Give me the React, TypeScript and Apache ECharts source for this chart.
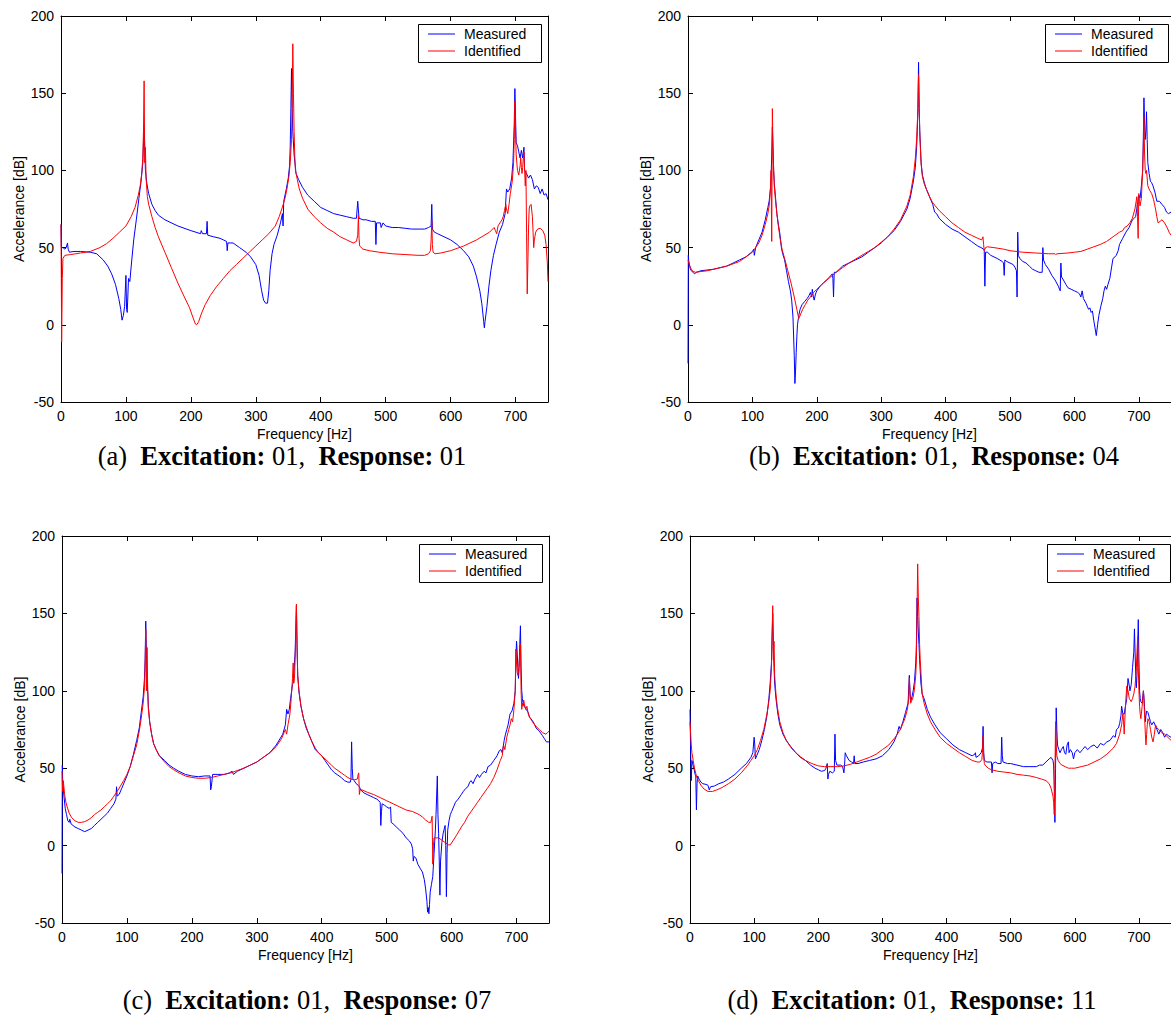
import React, { useEffect, useRef } from "react";
import * as echarts from "echarts";

// ---------- Data (frequency [Hz], accelerance [dB]) ----------
const aMeasured: number[][] = [[0,65],[0.5,50],[3,50],[6,49],[8,50],[10,53],[11,49],[13,47],[20,47.5],[30,47.5],[45,47],[55,46],[65,42],[72,38],[78,33],[84,26],[89,17],[92,10],[94,3],[96,6],[98,12],[100,32],[101,10],[102,8],[104,30],[106,28],[109,42],[112,55],[116,68],[120,82],[123,92],[125,100],[126,105],[127,118],[128,128],[129,115],[130,100],[132,92],[135,85],[140,78],[145,74],[150,71],[160,68],[180,64],[200,61],[215,59],[216,61],[218,59],[224,59],[225,67],[226,58],[235,57],[245,56],[250,55],[255,54],[256,48],[257,53],[265,53],[275,50],[285,47],[292,44],[300,39],[305,32],[309,22],[312,16],[315,14],[318,14],[320,22],[322,35],[325,46],[328,52],[333,58],[338,66],[341,72],[342,64],[343,80],[347,88],[350,95],[352,103],[353,115],[354,140],[355,166],[356,140],[357,125],[359,110],[362,98],[366,94],[372,89],[380,84],[390,80],[400,76],[410,74],[420,72],[430,71],[440,70],[450,69],[455,69],[457,80],[459,69],[465,68],[470,68],[478,67],[484,67],[485,52],[486,66],[492,66],[493,63],[496,66],[500,64],[510,63],[520,63],[530,62.5],[540,62],[550,62],[560,62],[566,63],[570,64],[571,78],[572,62],[575,60],[580,59],[590,57],[600,55],[610,52],[620,48],[628,44],[635,38],[640,31],[645,22],[648,14],[651,2],[652,-2],[653,2],[656,12],[659,25],[662,35],[666,45],[670,52],[675,60],[680,65],[684,72],[686,88],[688,86],[691,88],[694,95],[696,105],[698,130],[699,153],[700,135],[701,118],[703,116],[705,112],[707,108],[709,113],[711,108],[713,115],[714,100],[717,98],[720,95],[723,97],[726,94],[729,88],[732,90],[735,89],[738,85],[741,88],[744,84],[747,85],[750,81]];
const aIdentified: number[][] = [[0,65],[1,-11],[2,30],[3,43],[6,45],[15,45.5],[30,46.5],[45,47.5],[60,50],[70,52.5],[80,56],[90,60],[100,64],[108,70],[114,76],[119,84],[122,90],[124,97],[126,108],[127,125],[128,158],[129,105],[130,115],[131,95],[133,83],[135,78],[140,70],[145,63],[150,57],[160,47],[170,37],[180,27],[190,18],[198,11],[203,5],[207,0.5],[209,0],[212,2],[216,7],[222,13],[230,19],[240,25],[250,30],[260,35],[270,39],[280,43],[290,47],[300,51],[310,55],[320,59],[330,64],[336,70],[340,75],[343,79],[345,82],[348,88],[351,96],[353,105],[355,120],[356,140],[357,182],[358,150],[359,125],[360,110],[361,100],[362,98],[364,94],[367,88],[372,82],[380,75],[390,70],[400,66],[410,62.5],[420,60],[430,57],[440,55],[450,53],[455,54],[457,58],[458,71],[459,56],[460,51],[465,49],[475,48],[490,47],[510,46],[530,45.5],[550,45],[560,45],[566,46],[569,48],[570,55],[571,67],[572,52],[573,47],[576,46],[585,46.5],[600,48],[610,49.5],[620,51],[630,53],[640,55],[650,57.5],[660,60],[667,63],[669,61],[671,59],[673,64],[676,66],[679,68],[681,70],[683,74],[685,78],[686,75],[688,72],[690,78],[692,85],[695,93],[697,105],[698,120],[699,145],[700,125],[701,110],[703,100],[705,97],[707,103],[708,108],[709,102],[710,98],[711,102],[712,108],[713,112],[714,100],[715,90],[716,100],[717,60],[718,20],[719,40],[720,62],[721,75],[722,77],[724,78],[725,78],[726,70],[727,60],[728,50],[729,55],[731,60],[734,62],[738,62.5],[742,61],[745,58],[747,52],[749,40],[750,28]];

const bMeasured: number[][] = [[0,-25],[0.5,45],[1,42],[3,37],[5,35],[8,34],[10,33],[13,34],[20,35],[30,35.5],[40,36],[50,37],[60,38],[70,40],[80,42],[90,44],[100,47.5],[102,49],[103,45],[105,50],[110,55],[115,60],[120,68],[124,76],[126,80],[128,88],[129,95],[130,110],[131,128],[132,115],[133,100],[134,92],[136,82],[138,72],[140,66],[143,58],[145,50],[147,46],[150,42],[153,35],[156,28],[159,22],[161,16],[163,5],[165,-20],[166,-38],[167,-30],[168,-18],[169,-8],[170,0],[172,6],[174,10],[177,13],[181,15],[185,17],[188,19],[190,21],[192,18],[193,23],[195,17],[196,16],[198,20],[200,22],[205,25],[210,27],[215,29],[220,31],[224,33],[225,30],[226,18],[227,34],[230,34],[235,36],[240,38],[250,40],[260,42],[270,44],[280,47],[290,50],[300,53],[310,57],[320,61],[330,67],[340,75],[345,82],[350,93],[353,102],[355,115],[356,125],[357,140],[358,170],[359,140],[360,125],[362,105],[364,97],[367,92],[370,88],[375,83],[380,78],[383,73],[386,72],[390,69],[400,65],[410,62],[420,60],[430,57],[440,54],[450,51],[455,50],[459,49],[460,48],[461,25],[462,47],[465,47],[470,45],[480,43],[488,41],[490,40],[491,32],[492,42],[495,41],[500,40],[505,39],[508,37],[510,35],[511,18],[512,60],[513,45],[515,43],[520,41],[525,40],[530,38],[535,36],[540,35],[545,34],[550,34],[551,50],[552,42],[555,39],[560,36],[565,32],[570,29],[575,25],[578,22],[579,40],[580,31],[583,29],[587,26],[590,24],[595,23],[600,22],[605,21],[608,20],[610,18],[612,22],[614,17],[618,14],[620,12],[622,10],[624,11],[626,8],[628,9],[630,3],[632,-2],[634,-7],[636,0],[638,6],[641,12],[644,17],[646,22],[648,25],[650,23],[652,26],[655,30],[658,38],[660,43],[663,44],[665,45],[668,48],[670,52],[675,56],[680,60],[685,63],[688,66],[690,68],[693,69],[695,70],[698,78],[700,84],[702,82],[704,90],[706,100],[707,120],[708,147],[709,130],[710,120],[711,125],[712,138],[713,120],[714,105],[716,98],[718,93],[720,92],[722,90],[725,86],[728,80],[732,80],[736,78],[740,76],[743,73],[746,72],[750,73]];
const bIdentified: number[][] = [[0,42],[2,39],[5,36],[8,34.5],[12,34],[20,34.5],[30,35],[40,36],[50,37],[60,38],[70,39.5],[80,41],[90,44],[100,47],[105,50],[110,53],[115,58],[120,65],[124,72],[126,77],[128,88],[129,100],[130,54],[131,140],[132,112],[134,90],[136,80],[138,72],[140,65],[143,56],[146,49],[150,43],[155,35],[160,27],[165,18],[169,10],[172,4],[175,7],[178,10],[182,13],[186,16],[190,18],[195,21],[200,23],[210,27],[220,30.5],[230,34],[240,37],[250,40],[260,42.5],[270,45],[280,47.5],[290,50],[300,53.5],[310,57],[320,62],[330,68],[340,77],[345,84],[350,96],[353,108],[355,120],[357,140],[358,162],[359,138],[360,122],[362,104],[364,96],[367,91],[370,88],[375,83],[380,79],[390,74],[400,70],[410,66],[420,63],[430,60],[440,58],[450,56],[456,55],[458,57],[459,52],[460,48],[462,50],[465,50.5],[475,50],[490,49],[500,48],[520,47],[540,46.5],[560,46],[570,46],[571,45.5],[573,46],[590,46.5],[600,47],[610,47.5],[620,49],[630,50.5],[640,52],[650,54],[660,57],[670,60],[675,61],[678,63],[682,64],[686,66],[690,69],[694,75],[697,83],[698,70],[699,56],[700,85],[701,80],[702,77],[704,82],[706,100],[707,115],[708,135],[709,110],[710,100],[711,98],[712,100],[714,90],[717,87],[720,85],[723,81],[726,75],[728,70],[730,66],[733,67],[736,68],[740,66],[744,63],[747,60],[750,58]];

const cMeasured: number[][] = [[0,-18],[0.5,52],[1,42],[3,32],[5,24],[7,20],[9,16],[11,15],[12,17],[14,14],[17,13],[20,12],[25,11],[30,10],[35,9],[40,10],[45,11],[50,13],[55,15],[60,17],[65,19],[70,21],[75,24],[80,27],[83,30],[84,38],[85,32],[88,33],[92,37],[96,41],[100,45],[105,51],[110,59],[115,68],[119,76],[122,86],[125,96],[127,108],[128,120],[129,145],[130,125],[131,110],[133,90],[135,80],[138,72],[141,66],[145,62],[150,58],[158,55],[165,52],[172,50],[180,48],[190,46],[200,45],[210,44.5],[220,45],[228,45],[229,36],[230,38],[232,46],[240,46],[250,46],[258,47],[262,48],[264,46],[270,48],[280,50],[290,52],[300,54],[310,57],[320,60],[330,65],[340,72],[344,78],[346,88],[348,85],[350,88],[352,95],[355,104],[356,105],[358,118],[359,125],[360,140],[361,155],[362,130],[363,110],[365,99],[368,90],[372,82],[376,76],[380,72],[385,67],[390,62],[395,60],[400,58],[405,55],[410,52],[415,49],[420,47],[425,45.5],[430,44],[435,42],[440,41],[444,41],[445,43],[446,67],[447,50],[448,43],[450,42],[453,40],[456,39],[458,38],[460,36],[465,34],[470,33],[475,32],[480,31],[485,30],[490,28],[491,13],[492,22],[493,27],[497,26],[500,25],[504,24],[506,25],[507,15],[510,14],[515,12],[520,10],[525,8],[530,5],[535,3],[538,1],[540,-2],[541,-10],[542,-7],[545,-8],[548,-12],[552,-15],[555,-17],[558,-22],[560,-28],[562,-36],[563,-43],[564,-40],[565,-44],[566,-38],[567,-30],[569,-25],[571,-20],[573,-5],[575,10],[576,20],[578,45],[579,20],[580,8],[581,-10],[582,-32],[583,-10],[585,2],[587,8],[590,13],[591,0],[592,-33],[593,-5],[594,10],[596,16],[598,20],[600,22],[603,25],[606,28],[610,30],[615,33],[618,35],[622,37],[625,38],[628,41],[630,42],[633,40],[636,43],[640,46],[643,44],[646,46],[650,48],[653,47],[656,51],[660,52],[665,55],[670,58],[673,61],[676,62],[678,60],[681,68],[683,72],[685,75],[687,78],[690,85],[693,87],[696,92],[698,100],[699,120],[700,132],[701,125],[702,115],[703,108],[704,115],[705,130],[706,142],[707,115],[708,100],[709,95],[710,92],[712,90],[715,88],[718,86],[720,83],[724,81],[727,79],[730,76],[735,74],[740,71],[743,69],[746,67],[750,67]];
const cIdentified: number[][] = [[0,48],[1,35],[2,42],[4,33],[6,28],[8,25],[11,21],[15,18],[20,16],[25,15],[30,15],[35,15.5],[40,16.5],[45,18],[50,20],[55,21.5],[60,23],[65,25],[70,27],[75,29],[80,32],[85,35],[90,38.5],[95,42],[100,46],[105,51],[110,58],[115,65],[119,74],[122,82],[125,92],[127,102],[128,115],[129,140],[130,100],[131,128],[132,100],[133,88],[135,80],[138,72],[141,66],[145,62],[150,58],[158,54],[165,51],[172,49],[180,47],[190,45],[200,44],[210,43.5],[220,43.5],[230,44],[240,45],[250,46],[260,47],[270,48.5],[280,50],[290,52],[300,54],[310,57],[320,60],[330,64],[338,69],[342,73],[344,75],[346,72],[348,78],[351,85],[353,95],[355,108],[356,118],[357,105],[358,108],[359,120],[360,135],[361,156],[362,128],[363,110],[365,100],[368,90],[372,82],[376,77],[380,72],[385,67],[390,63],[395,60],[400,58],[405,56],[410,54],[415,52],[420,50],[425,48.5],[430,47],[435,45.5],[440,44],[445,43],[450,42.5],[455,43],[456,46],[457,47],[458,33],[459,36],[462,36],[470,34.5],[480,33],[490,31],[500,29],[510,27],[520,25],[530,23],[540,22],[550,20],[555,18.5],[560,16.5],[565,15],[568,15],[570,19],[571,-12],[572,0],[573,5],[576,5],[580,5],[585,3.5],[590,2],[595,0.5],[598,0.5],[602,3],[608,7],[615,12],[620,15],[625,19],[630,22],[635,25],[640,28],[645,31],[650,34],[655,37],[660,40],[665,44],[670,49],[675,55],[678,58],[680,65],[682,62],[685,70],[688,75],[690,78],[692,82],[694,80],[696,88],[698,100],[699,127],[700,118],[701,112],[702,110],[703,112],[704,118],[706,130],[707,100],[708,88],[709,92],[710,90],[711,94],[712,92],[714,88],[716,90],[718,85],[720,83],[723,81],[726,79],[730,77],[735,75],[740,73],[745,72],[748,73],[750,74]];

const dMeasured: number[][] = [[0,88],[1,60],[2,42],[3,55],[4,55],[6,50],[8,46],[9,45],[10,23],[11,40],[12,45],[14,43],[17,41],[20,40],[25,39.5],[28,39],[30,36],[32,38],[38,38.5],[45,40],[52,41],[60,43],[70,46],[80,50],[88,53],[95,57],[98,60],[100,70],[101,65],[102,56],[104,58],[108,62],[112,68],[116,75],[120,84],[123,95],[125,105],[127,118],[128,135],[129,150],[130,130],[131,115],[132,105],[134,95],[137,85],[140,78],[145,72],[150,68],[157,64],[165,60],[172,57],[180,55],[188,52],[195,50],[200,49],[205,48],[210,48.5],[212,50],[214,53],[215,43],[216,46],[218,48],[222,47],[225,48],[226,72],[227,55],[229,52],[235,52],[238,51],[240,47],[241,52],[242,60],[244,58],[248,55],[252,54],[255,53],[256,58],[257,53],[262,53],[270,54],[280,55],[290,56],[300,58],[310,62],[318,67],[323,72],[326,77],[328,75],[332,80],[336,86],[340,92],[342,110],[343,100],[344,93],[346,96],[348,100],[350,106],[352,118],[353,130],[354,160],[355,148],[356,138],[357,130],[358,120],[360,105],[362,98],[365,95],[370,88],[375,83],[382,78],[390,73],[400,69],[410,65],[420,62],[430,60],[440,58],[444,59],[445,60],[446,57],[450,58],[454,60],[456,63],[457,77],[458,60],[459,55],[463,54],[468,54],[470,54],[471,47],[472,53],[476,54],[480,53],[485,53],[486,70],[487,58],[488,54],[495,53],[500,53],[510,52],[520,51],[530,51],[540,51],[545,52],[550,52],[555,54],[560,56],[563,57],[566,55],[567,52],[568,35],[569,15],[570,50],[571,89],[572,75],[573,65],[575,62],[577,60],[579,62],[582,64],[584,60],[586,59],[588,65],[590,67],[591,60],[593,62],[596,60],[598,56],[600,60],[604,62],[608,60],[612,62],[616,64],[620,62],[625,64],[630,65],[635,63],[640,66],[645,65],[650,67],[655,68],[660,71],[663,70],[665,75],[668,76],[670,79],[672,84],[673,90],[675,85],[677,85],[679,90],[681,95],[683,108],[685,103],[686,100],[688,104],[690,115],[692,125],[693,140],[694,125],[695,110],[696,102],[697,110],[699,146],[700,120],[701,100],[702,95],[703,93],[705,92],[707,100],[708,95],[710,80],[711,84],[712,87],[714,86],[716,83],[718,80],[720,78],[723,80],[725,78],[728,75],[731,72],[734,75],[737,73],[740,70],[743,72],[746,71],[750,70]];
const dIdentified: number[][] = [[0,80],[1,72],[2,65],[3,60],[5,55],[7,50],[10,45],[13,42],[17,39],[22,36.5],[28,35],[35,35],[42,36],[50,37.5],[60,40],[70,43],[80,47],[90,52],[95,55],[100,58],[105,62],[110,68],[115,75],[119,83],[122,90],[125,100],[127,115],[128,135],[129,155],[130,120],[131,132],[132,110],[134,98],[136,90],[140,80],[145,73],[150,68],[158,63],[165,60],[172,57.5],[180,55],[190,53],[200,51.5],[210,51],[220,51],[230,51],[240,51.5],[250,52.5],[260,54],[270,55.5],[280,57],[290,59],[300,62],[310,65],[320,70],[328,75],[335,82],[339,88],[341,95],[342,108],[343,98],[344,92],[346,94],[348,96],[350,101],[352,110],[353,120],[354,150],[355,182],[356,160],[357,148],[358,130],[359,120],[361,105],[362,98],[365,92],[370,85],[375,80],[382,75],[390,70],[400,66],[410,63],[420,60],[430,57.5],[440,55],[448,54],[452,54],[455,55.5],[456,60],[457,71],[458,57],[459,53],[460,52],[465,50],[470,49],[480,48],[490,47.5],[500,47],[510,46],[520,45.5],[530,45],[540,44],[548,43],[555,42],[560,40],[563,37],[566,32],[567,28],[568,20],[569,45],[570,80],[571,65],[572,58],[574,55],[577,53],[580,52],[585,51],[590,50],[595,50],[600,50],[610,51],[620,52],[630,54],[640,56],[650,59],[660,63],[665,66],[670,72],[673,78],[675,85],[676,80],[677,72],[679,90],[681,103],[683,100],[685,95],[688,93],[690,95],[692,98],[694,103],[696,115],[697,125],[698,135],[699,115],[700,100],[701,90],[702,85],[703,82],[705,90],[706,95],[707,100],[708,92],[709,82],[710,72],[711,65],[712,72],[713,78],[714,82],[716,80],[718,75],[720,70],[722,67],[724,72],[726,78],[728,76],[731,75],[735,73],[740,72],[745,70],[750,68]];

const seriesNames = ["Measured", "Identified"];
const seriesColors = ["#0000ff", "#ff0000"];
const panelLetters = ["(a)", "(b)", "(c)", "(d)"];
const excitations = ["01", "01", "01", "01"];
const responses = ["01", "04", "07", "11"];
const xAxisTitle = "Frequency [Hz]";
const yAxisTitle = "Accelerance [dB]";

// layout (pixels)
const grids = [
  { left: 61, top: 16, width: 487, height: 386 },
  { left: 688, top: 16, width: 487, height: 386 },
  { left: 62, top: 536, width: 487, height: 387 },
  { left: 690, top: 536, width: 487, height: 387 },
];
const captionX = [282, 934, 307, 912];
const captionY = [456, 456, 1000, 1000];

const SANS = "'Liberation Sans', Arial, Helvetica, sans-serif";
const SERIF = "'Liberation Serif', 'Times New Roman', Times, serif";

function buildOption() {
  const data = [
    [aMeasured, aIdentified],
    [bMeasured, bIdentified],
    [cMeasured, cIdentified],
    [dMeasured, dIdentified],
  ];
  const xAxis: any[] = [];
  const yAxis: any[] = [];
  const series: any[] = [];
  const graphic: any[] = [];
  const lineStyle = { color: "#000", width: 1 };
  const tick = { show: true, inside: true, length: 5, lineStyle: { color: "#000", width: 1 } };
  const label = { color: "#000", fontSize: 14, fontFamily: SANS };

  grids.forEach((g, i) => {
    xAxis.push({
      type: "value", gridIndex: i, position: "bottom", min: 0, max: 750, interval: 100,
      axisLine: { show: true, onZero: false, lineStyle },
      axisTick: tick,
      axisLabel: { ...label, margin: 7, showMaxLabel: false },
      splitLine: { show: false },
      name: xAxisTitle, nameLocation: "middle", nameGap: 25,
      nameTextStyle: { color: "#000", fontSize: 14, fontFamily: SANS, lineHeight: 14 },
    });
    xAxis.push({
      type: "value", gridIndex: i, position: "top", min: 0, max: 750, interval: 100,
      axisLine: { show: true, onZero: false, lineStyle },
      axisTick: tick,
      axisLabel: { show: false },
      splitLine: { show: false },
    });
    yAxis.push({
      type: "value", gridIndex: i, position: "left", min: -50, max: 200, interval: 50,
      axisLine: { show: true, onZero: false, lineStyle },
      axisTick: tick,
      axisLabel: { ...label, margin: 7 },
      splitLine: { show: false },
      name: yAxisTitle, nameLocation: "middle", nameGap: 35,
      nameTextStyle: { color: "#000", fontSize: 14, fontFamily: SANS },
    });
    yAxis.push({
      type: "value", gridIndex: i, position: "right", min: -50, max: 200, interval: 50,
      axisLine: { show: true, onZero: false, lineStyle },
      axisTick: tick,
      axisLabel: { show: false },
      splitLine: { show: false },
    });
    data[i].forEach((d, k) => {
      series.push({
        type: "line", name: seriesNames[k], xAxisIndex: 2 * i, yAxisIndex: 2 * i,
        data: d, showSymbol: false, symbol: "none", clip: true,
        lineStyle: { color: seriesColors[k], width: 1 },
        itemStyle: { color: seriesColors[k] },
        z: 2 + k,
      });
    });

    // legend box
    const lx = g.left + 357;
    const ly = g.top + 8;
    graphic.push({
      type: "rect", z: 100, shape: { x: lx + 0.5, y: ly + 0.5, width: 123, height: 38 },
      style: { fill: "#fff", stroke: "#000", lineWidth: 1 },
    });
    seriesNames.forEach((nm, k) => {
      const yy = ly + 10 + k * 17;
      graphic.push({
        type: "line", z: 101, shape: { x1: lx + 10, y1: yy, x2: lx + 37, y2: yy },
        style: { stroke: seriesColors[k], lineWidth: 1 },
      });
      graphic.push({
        type: "text", z: 101, x: lx + 46, y: yy,
        style: { text: nm, fill: "#000", font: `14px ${SANS}`, align: "left", verticalAlign: "middle" },
      });
    });

    // caption
    const rs = { fontFamily: SERIF, fontSize: 26.5, lineHeight: 20, fill: "#000" };
    graphic.push({
      type: "text", z: 100, x: captionX[i], y: captionY[i],
      style: {
        text: `{n|${panelLetters[i]}}{s|  }{b|Excitation:}{s| }{n|${excitations[i]},}{s|  }{b|Response:}{s| }{n|${responses[i]}}`,
        align: "center", verticalAlign: "middle", fill: "#000",
        rich: {
          n: { ...rs, fontWeight: "normal" },
          b: { ...rs, fontWeight: "bold" },
          s: { ...rs },
        },
      },
    });
  });

  return {
    animation: false,
    backgroundColor: "#ffffff",
    grid: grids.map((g) => ({ ...g, containLabel: false })),
    xAxis, yAxis, series, graphic,
  };
}

export default function App() {
  const ref = useRef<HTMLDivElement>(null);
  useEffect(() => {
    if (!ref.current) return;
    const chart = echarts.init(ref.current, null, { renderer: "svg" });
    chart.setOption(buildOption() as any);
    return () => chart.dispose();
  }, []);
  return (
    <div
      ref={ref}
      style={{ position: "absolute", left: 0, top: 0, width: 1171, height: 1017, background: "#fff" }}
    />
  );
}
